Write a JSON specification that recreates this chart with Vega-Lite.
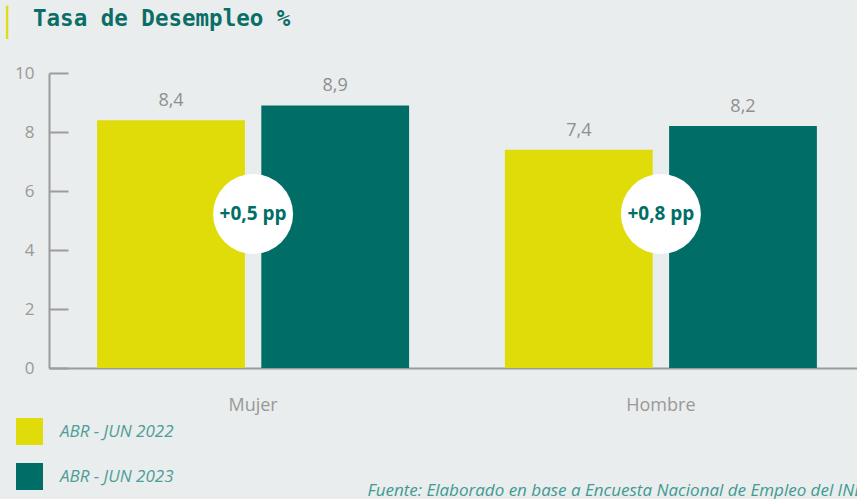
{
  "$schema": "https://vega.github.io/schema/vega-lite/v6.json",
  "autosize": "none",
  "width": 808,
  "height": 295,
  "padding": {"left": 49, "top": 73, "right": 0, "bottom": 131},
  "background": "#e9eded",
  "title": {
    "text": "Tasa de Desempleo %",
    "anchor": "start",
    "frame": "group",
    "dx": -16,
    "offset": -21,
    "font": "DejaVu Sans Mono",
    "fontWeight": "bold",
    "fontSize": 22.5,
    "color": "#0b6e66"
  },
  "data": {
    "values": [
      {"Sexo": "Mujer", "Periodo": "ABR - JUN 2022", "Tasa": 8.4},
      {"Sexo": "Mujer", "Periodo": "ABR - JUN 2023", "Tasa": 8.9},
      {"Sexo": "Hombre", "Periodo": "ABR - JUN 2022", "Tasa": 7.4},
      {"Sexo": "Hombre", "Periodo": "ABR - JUN 2023", "Tasa": 8.2}
    ]
  },
  "encoding": {
    "x": {
      "field": "Sexo",
      "type": "nominal",
      "sort": ["Mujer", "Hombre"],
      "scale": {"range": [0, 816], "paddingInner": 0.235, "paddingOuter": 0.118},
      "axis": {
        "title": "Fuente: Elaborado en base a Encuesta Nacional de Empleo del INE",
        "titleX": 318,
        "titleY": 127,
        "titleAnchor": null,
        "titleAlign": "left",
        "titleBaseline": "alphabetic",
        "titleFont": "Open Sans",
        "titleFontStyle": "italic",
        "titleFontWeight": "normal",
        "titleFontSize": 17,
        "titleColor": "#3f9a92",
        "labelAngle": 0,
        "labelFont": "Open Sans",
        "labelFontSize": 18,
        "labelColor": "#999999",
        "labelPadding": 28,
        "ticks": false,
        "domainColor": "#9c9c9c",
        "domainWidth": 2
      }
    }
  },
  "layer": [
    {
      "mark": {"type": "bar"},
      "encoding": {
        "xOffset": {
          "field": "Periodo",
          "type": "nominal",
          "scale": {"paddingInner": 0.1, "paddingOuter": 0}
        },
        "y": {
          "field": "Tasa",
          "type": "quantitative",
          "scale": {"domain": [0, 10]},
          "axis": {
            "title": "▏",
            "titleAngle": 0,
            "titleX": -43,
            "titleY": -42,
            "titleAlign": "left",
            "titleBaseline": "alphabetic",
            "titleAnchor": null,
            "titleFont": "DejaVu Sans Mono",
            "titleFontWeight": "normal",
            "titleFontSize": 28,
            "titleColor": "#dfdc0a",
            "values": [0, 2, 4, 6, 8, 10],
            "grid": false,
            "labelFont": "Open Sans",
            "labelFontSize": 17,
            "labelColor": "#999999",
            "tickSize": -19,
            "tickWidth": 2,
            "tickColor": "#9c9c9c",
            "domainColor": "#9c9c9c",
            "domainWidth": 2,
            "labelPadding": 34
          }
        },
        "color": {
          "field": "Periodo",
          "type": "nominal",
          "scale": {"range": ["#dfdc0a", "#006e66"]},
          "legend": {
            "title": null,
            "orient": "none",
            "legendX": -33,
            "legendY": 345,
            "padding": 0,
            "symbolType": "square",
            "symbolSize": 729,
            "symbolStrokeWidth": 0,
            "symbolOpacity": 1,
            "rowPadding": 18,
            "labelOffset": 17,
            "labelFont": "Open Sans",
            "labelFontStyle": "italic",
            "labelFontSize": 17,
            "labelColor": "#4f9d97"
          }
        }
      }
    },
    {
      "mark": {"type": "text", "dy": -19, "font": "Open Sans", "fontSize": 18, "color": "#8f8f8f"},
      "encoding": {
        "xOffset": {
          "field": "Periodo",
          "type": "nominal",
          "scale": {"paddingInner": 0.1, "paddingOuter": 0}
        },
        "y": {"field": "Tasa", "type": "quantitative"},
        "text": {"field": "Tasa", "type": "quantitative", "format": ".1f"}
      }
    },
    {
      "data": {
        "values": [
          {"Sexo": "Mujer", "Etiqueta": "+0,5 pp"},
          {"Sexo": "Hombre", "Etiqueta": "+0,8 pp"}
        ]
      },
      "mark": {"type": "point", "shape": "circle", "filled": true, "color": "white", "opacity": 1, "size": 6400},
      "encoding": {
        "y": {"datum": 5.22, "type": "quantitative"}
      }
    },
    {
      "data": {
        "values": [
          {"Sexo": "Mujer", "Etiqueta": "+0,5 pp"},
          {"Sexo": "Hombre", "Etiqueta": "+0,8 pp"}
        ]
      },
      "mark": {"type": "text", "font": "Open Sans", "fontWeight": "bold", "fontSize": 19, "color": "#006e66", "baseline": "middle"},
      "encoding": {
        "y": {"datum": 5.22, "type": "quantitative"},
        "text": {"field": "Etiqueta"}
      }
    }
  ],
  "config": {
    "view": {"stroke": null},
    "locale": {"number": {"decimal": ",", "thousands": ".", "grouping": [3], "currency": ["", " €"]}}
  }
}
